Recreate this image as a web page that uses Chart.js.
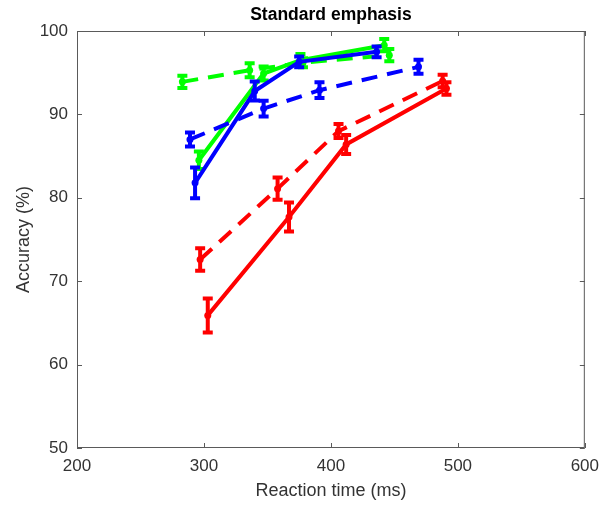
<!DOCTYPE html>
<html>
<head>
<meta charset="utf-8">
<script src="https://cdn.jsdelivr.net/npm/chart.js@4/dist/chart.umd.min.js"></script>
<style>
  html, body { margin: 0; padding: 0; background: #fff; }
  #wrap { width: 607px; height: 506px; }
</style>
</head>
<body>
<div id="wrap"><canvas id="grafico"></canvas></div>
<script>
// reaction time (ms), accuracy (%), error (+/- %)
const rtRojoSolido = [303, 367, 412, 491];
const accRojoSolido = [65.9, 77.7, 86.4, 93.1];
const errRojoSolido = [2.1, 1.8, 1.2, 0.8];

const rtRojoGuion = [297, 358, 406, 488];
const accRojoGuion = [72.6, 81.1, 88.0, 94.0];
const errRojoGuion = [1.4, 1.4, 0.9, 0.8];

const rtAzulSolido = [293, 340, 375, 436];
const accAzulSolido = [81.8, 92.8, 96.3, 97.5];
const errAzulSolido = [1.9, 1.2, 0.7, 0.7];

const rtAzulGuion = [289, 347, 391, 469];
const accAzulGuion = [87.0, 90.7, 92.9, 95.7];
const errAzulGuion = [0.9, 1.0, 1.0, 0.9];

const rtVerdeSolido = [296, 347, 376, 442];
const accVerdeSolido = [84.5, 94.9, 96.5, 98.3];
const errVerdeSolido = [1.1, 0.9, 0.8, 0.8];

const rtVerdeGuion = [283, 336, 378, 446];
const accVerdeGuion = [93.9, 95.3, 96.2, 97.1];
const errVerdeGuion = [0.8, 0.9, 0.6, 0.8];

const xTicks = [200, 300, 400, 500, 600];
const yTicks = [50, 60, 70, 80, 90, 100];

const titulo = 'Standard emphasis';
const ejeColor = '#5a5a5a';
const textoColor = '#333333';
const fuente = 'Liberation Sans, Arial, sans-serif';

function serie(rt, acc, err, color, guion) {
    return {
        data: rt.map((x, i) => ({ x: x, y: acc[i] })),
        err: err,
        showLine: true,
        borderColor: color,
        backgroundColor: color,
        borderWidth: 4,
        borderDash: guion ? [16, 10] : [],
        pointRadius: 3.5,
        pointBorderWidth: 0,
        pointBackgroundColor: color,
        tension: 0
    };
}

// vertical error bars with caps, drawn right after each dataset
const barrasError = {
    id: 'barrasError',
    afterDatasetDraw(chart, args) {
        const ds = chart.data.datasets[args.index];
        const sx = chart.scales.x, sy = chart.scales.y;
        const ctx = chart.ctx;
        ctx.save();
        ctx.strokeStyle = ds.borderColor;
        ctx.setLineDash([]);
        ctx.lineWidth = 4;
        ds.data.forEach((p, i) => {
            const px = sx.getPixelForValue(p.x);
            const y1 = sy.getPixelForValue(p.y - ds.err[i]);
            const y2 = sy.getPixelForValue(p.y + ds.err[i]);
            ctx.beginPath();
            ctx.moveTo(px, y1); ctx.lineTo(px, y2);
            ctx.moveTo(px - 5, y1 - 0.5); ctx.lineTo(px + 5, y1 - 0.5);
            ctx.moveTo(px - 5, y2 + 0.5); ctx.lineTo(px + 5, y2 + 0.5);
            ctx.stroke();
        });
        ctx.restore();
    }
};

// box around the axes with inward ticks, and title centred over the axes
const caja = {
    id: 'caja',
    afterDraw(chart) {
        const a = chart.chartArea;
        const sx = chart.scales.x, sy = chart.scales.y;
        const ctx = chart.ctx;
        ctx.save();
        ctx.strokeStyle = ejeColor;
        ctx.lineWidth = 1;
        ctx.strokeRect(a.left + 0.5, a.top + 0.5, a.right - a.left - 1, a.bottom - a.top - 1);
        ctx.beginPath();
        xTicks.forEach(v => {
            const px = Math.round(sx.getPixelForValue(v)) + 0.5;
            ctx.moveTo(px, a.bottom); ctx.lineTo(px, a.bottom - 5);
            ctx.moveTo(px, a.top); ctx.lineTo(px, a.top + 5);
        });
        yTicks.forEach(v => {
            const py = Math.round(sy.getPixelForValue(v)) + 0.5;
            ctx.moveTo(a.left, py); ctx.lineTo(a.left + 5, py);
            ctx.moveTo(a.right, py); ctx.lineTo(a.right - 5, py);
        });
        ctx.stroke();

        ctx.fillStyle = '#000';
        ctx.font = 'bold 17.5px ' + fuente;
        ctx.textAlign = 'center';
        ctx.textBaseline = 'middle';
        ctx.fillText(titulo, (a.left + a.right) / 2, 15);
        ctx.restore();
    }
};

const canvas = document.getElementById('grafico');
new Chart(canvas, {
    type: 'scatter',
    data: {
        datasets: [
            serie(rtRojoSolido, accRojoSolido, errRojoSolido, '#ff0000', false),
            serie(rtRojoGuion, accRojoGuion, errRojoGuion, '#ff0000', true),
            serie(rtAzulSolido, accAzulSolido, errAzulSolido, '#0000ff', false),
            serie(rtAzulGuion, accAzulGuion, errAzulGuion, '#0000ff', true),
            serie(rtVerdeSolido, accVerdeSolido, errVerdeSolido, '#00ff00', false),
            serie(rtVerdeGuion, accVerdeGuion, errVerdeGuion, '#00ff00', true)
        ]
    },
    options: {
        responsive: true,
        maintainAspectRatio: false,
        animation: false,
        layout: { padding: { left: 13, right: 13, top: 31, bottom: 3 } },
        plugins: {
            legend: { display: false },
            tooltip: { enabled: false },
            title: { display: false }
        },
        scales: {
            x: {
                type: 'linear',
                min: 200,
                max: 600,
                grid: { display: false, drawTicks: false },
                border: { display: false },
                afterBuildTicks: s => { s.ticks = xTicks.map(v => ({ value: v })); },
                afterFit: s => { s.height = 506 - 3 - 448; },
                ticks: {
                    color: textoColor,
                    padding: 8,
                    maxRotation: 0,
                    font: { family: fuente, size: 17 }
                },
                title: {
                    display: true,
                    text: 'Reaction time (ms)',
                    color: textoColor,
                    padding: { top: 0, bottom: 1 },
                    font: { family: fuente, size: 18 }
                }
            },
            y: {
                type: 'linear',
                min: 50,
                max: 100,
                grid: { display: false, drawTicks: false },
                border: { display: false },
                afterBuildTicks: s => { s.ticks = yTicks.map(v => ({ value: v })); },
                afterFit: s => { s.width = 77 - 13; },
                ticks: {
                    color: textoColor,
                    padding: 9,
                    font: { family: fuente, size: 17 }
                },
                title: {
                    display: true,
                    text: 'Accuracy (%)',
                    color: textoColor,
                    padding: { top: 0, bottom: 0 },
                    font: { family: fuente, size: 18 }
                }
            }
        }
    },
    plugins: [barrasError, caja]
});
</script>
</body>
</html>
